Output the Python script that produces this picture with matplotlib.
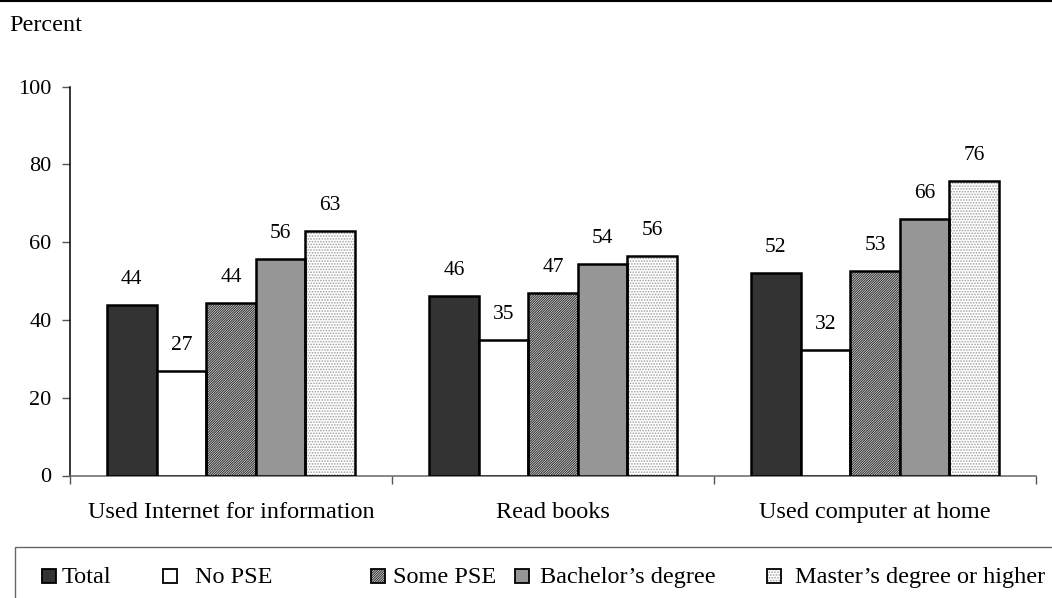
import matplotlib
matplotlib.use('Agg')
import matplotlib.pyplot as plt
import numpy as np
from matplotlib.patches import Rectangle
from matplotlib.lines import Line2D

# values
categories = ['Used Internet for information', 'Read books', 'Used computer at home']
series = ['Total', 'No PSE', 'Some PSE', "Bachelor\u2019s degree", "Master\u2019s degree or higher"]
total = [43.9, 46.2, 52.0]
no_pse = [27.0, 34.8, 32.4]
some_pse = [44.3, 47.0, 52.6]
bachelor = [55.8, 54.3, 66.0]
master = [63.0, 56.5, 75.8]
labels = [[44, 46, 52], [27, 35, 32], [44, 47, 53], [56, 54, 66], [63, 56, 76]]

values = [total, no_pse, some_pse, bachelor, master]

# fill, hatch, hatch colour
styles = [('#333333', '', None),
          ('white', '', None),
          ('white', '//////////////', '#333333'),
          ('#969696', '', None),
          ('white', '......', '#a0a0a0')]

plt.rcParams['font.family'] = ['Liberation Serif', 'DejaVu Serif']
plt.rcParams['hatch.linewidth'] = 0.8
fs = 17.5      # general text
fs_val = 15.5  # data labels
fs_tick = 16

fig = plt.figure(figsize=(10.52, 5.98), dpi=100)
ax = fig.add_axes([70/1052, 1 - 475.5/598, 966/1052, (475.5-86.7)/598])

x = np.arange(len(categories))
w = 0.154
for i, vals in enumerate(values):
    fc, hatch, hc = styles[i]
    pos = x + (i - 2) * w
    if hatch:
        ax.bar(pos, vals, w, color=fc, edgecolor=hc, hatch=hatch, linewidth=0, zorder=2)
        ax.bar(pos, vals, w, fill=False, edgecolor='black', linewidth=1.8, zorder=3)
    else:
        ax.bar(pos, vals, w, color=fc, edgecolor='black', linewidth=1.8, zorder=3)
    for p, v, lab in zip(pos, vals, labels[i]):
        ax.annotate(str(lab), (p, v), xytext=(0, 16), textcoords='offset pixels',
                    ha='center', va='bottom', fontsize=fs_val)

ax.set_xlim(-0.5, 2.5)
ax.set_ylim(0, 100)
ax.set_yticks(np.arange(0, 101, 20))
ax.set_xticks([-0.5, 0.5, 1.5, 2.5])
ax.set_xticklabels([])
ax.set_xticks(x, minor=True)
ax.set_xticklabels(categories, minor=True, fontsize=fs)
ax.tick_params(axis='x', which='minor', length=0, pad=19)
ax.tick_params(axis='x', which='major', length=6, width=1, color='#555555', direction='out')
ax.tick_params(axis='y', length=5.8, width=1, color='#555555', labelsize=fs_tick, pad=7.5)
for s in ['top', 'right']:
    ax.spines[s].set_visible(False)
ax.spines['left'].set_color('black')
ax.spines['left'].set_linewidth(1.1)
ax.spines['bottom'].set_color('#666666')
ax.spines['bottom'].set_linewidth(1.1)

fig.text(9/1052, 1 - 31/598, 'Percent', fontsize=fs, va='baseline', ha='left')

# top rule
fig.add_artist(Line2D([0, 1], [1 - 1/598, 1 - 1/598], color='black', linewidth=1.5))

# legend box
fig.add_artist(Rectangle((15/1052, -0.05), 1.1, (598 - 546.5)/598 + 0.05,
                         transform=fig.transFigure, fill=False, edgecolor='#666666', linewidth=1))
leg_sq = [42, 163, 371, 515, 767]
leg_tx = [62, 195, 393, 540, 795]
sq = 14
ly = 576
for i, name in enumerate(series):
    fc, hatch, hc = styles[i]
    rect_xy = (leg_sq[i]/1052, 1 - (ly + sq/2)/598)
    if hatch:
        fig.add_artist(Rectangle(rect_xy, sq/1052, sq/598, transform=fig.transFigure,
                                 facecolor=fc, edgecolor=hc, hatch=hatch, linewidth=0))
        fig.add_artist(Rectangle(rect_xy, sq/1052, sq/598, transform=fig.transFigure,
                                 fill=False, edgecolor='black', linewidth=1.3))
    else:
        fig.add_artist(Rectangle(rect_xy, sq/1052, sq/598, transform=fig.transFigure,
                                 facecolor=fc, edgecolor='black', linewidth=1.3))
    fig.text(leg_tx[i]/1052, 1 - 583/598, name, fontsize=fs, va='baseline', ha='left')

fig.savefig('out.png', dpi=100)
